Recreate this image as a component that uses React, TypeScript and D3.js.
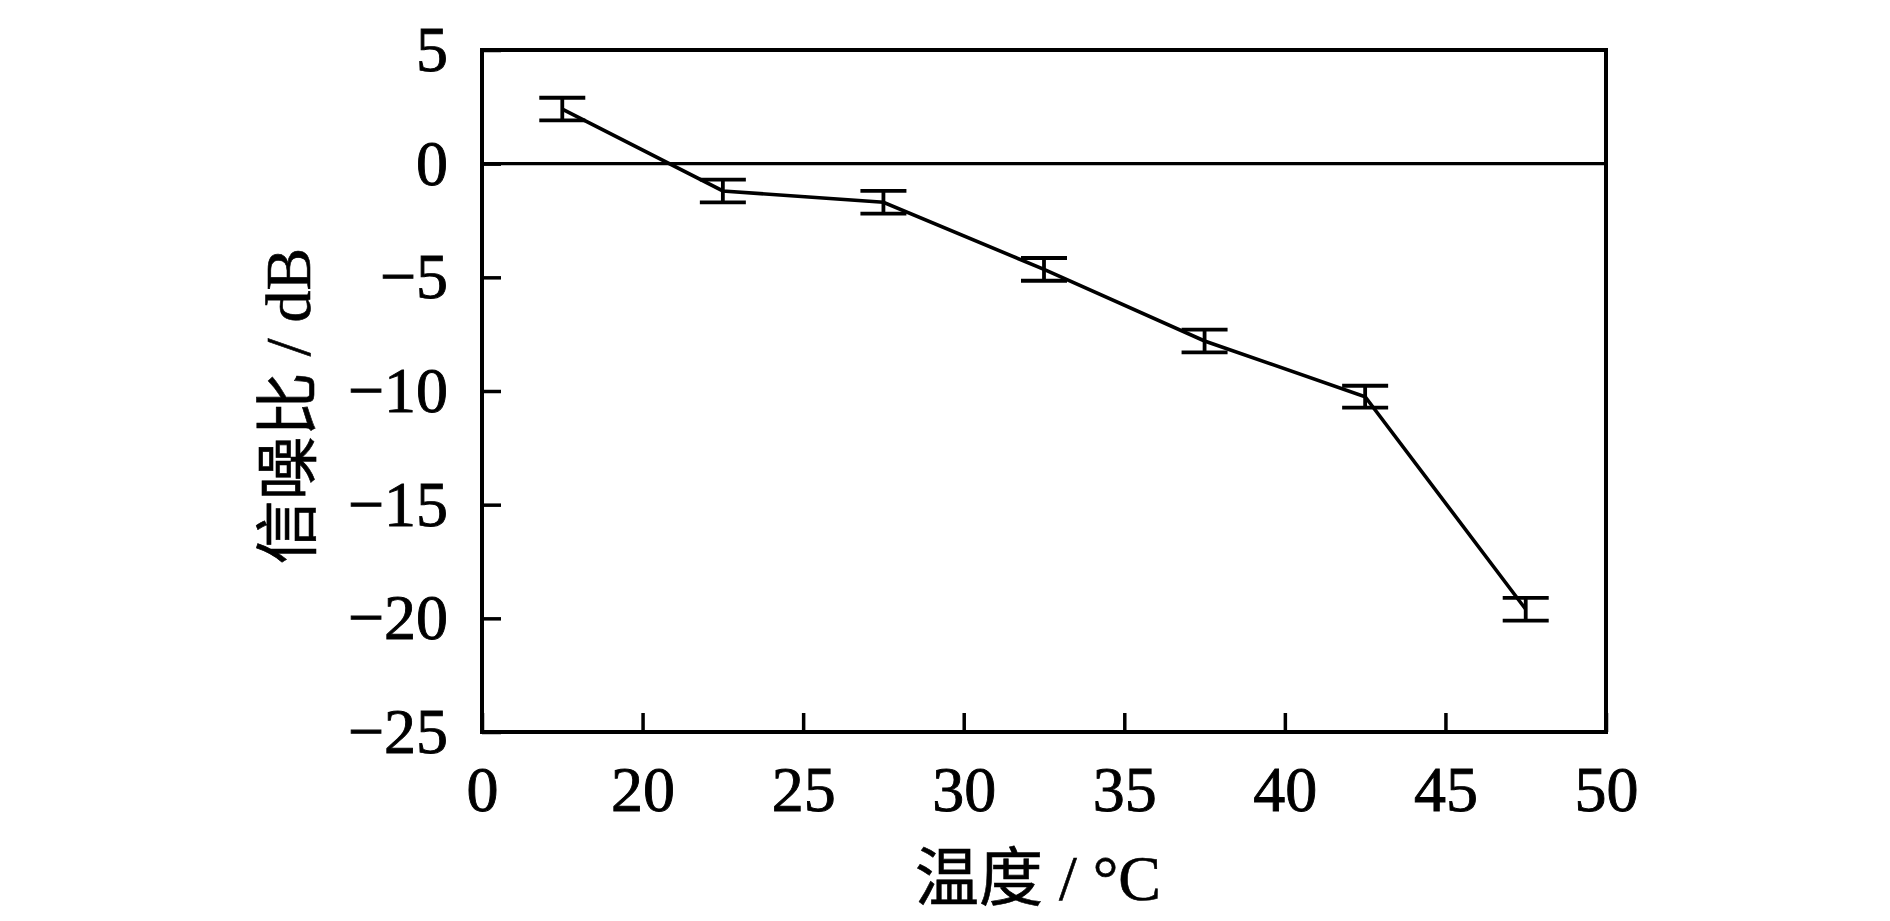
import { useEffect, useRef } from "react";
import { axisBottom, axisLeft, line, scaleLinear, select } from "d3";

const WIDTH = 1890;
const HEIGHT = 921;
const PLOT = { left: 482, right: 1606, top: 50, bottom: 732 };
const FONT = `"Times New Roman", "Liberation Serif", "Noto Sans CJK SC", serif`;

// temperature (°C), signal-to-noise ratio (dB), error (dB)
const temps = [17.5, 22.5, 27.5, 32.5, 37.5, 42.5, 47.5];
const snr = [2.4, -1.2, -1.7, -4.65, -7.8, -10.25, -19.6];
const err = [0.5, 0.5, 0.5, 0.5, 0.5, 0.48, 0.5];

// x axis is broken: the first tick (at 15) is labelled "0"
const xTicks = [15, 20, 25, 30, 35, 40, 45, 50];
const xTickLabels = ["0", "20", "25", "30", "35", "40", "45", "50"];
const yTicks = [5, 0, -5, -10, -15, -20, -25];

const xTitle = "温度 / °C";
const yTitle = "信噪比 / dB";

export default function App() {
  const x = scaleLinear().domain([15, 50]).range([PLOT.left, PLOT.right]);
  const y = scaleLinear().domain([-25, 5]).range([PLOT.bottom, PLOT.top]);

  const xAxisRef = useRef<SVGGElement>(null);
  const yAxisRef = useRef<SVGGElement>(null);

  useEffect(() => {
    const style = (node: SVGGElement) => {
      const g = select(node);
      g.select(".domain").remove();
      g.selectAll("line").attr("stroke", "#000").attr("stroke-width", 3.5);
      g.selectAll("text")
        .attr("fill", "#000")
        .attr("stroke", "#000")
        .attr("stroke-width", 0.9)
        .style("font-family", FONT)
        .style("font-size", "64px");
    };
    if (xAxisRef.current) {
      select(xAxisRef.current).call(
        axisBottom(x)
          .tickValues(xTicks)
          .tickFormat((_, i) => xTickLabels[i])
          .tickSizeInner(-19)
          .tickSizeOuter(0)
          .tickPadding(34)
      );
      style(xAxisRef.current);
    }
    if (yAxisRef.current) {
      select(yAxisRef.current).call(
        axisLeft(y)
          .tickValues(yTicks)
          .tickSizeInner(-19)
          .tickSizeOuter(0)
          .tickPadding(34)
      );
      style(yAxisRef.current);
    }
  });

  const points = temps.map((t, i) => [t, snr[i]] as [number, number]);
  const path = line<[number, number]>()
    .x((d) => x(d[0]))
    .y((d) => y(d[1]));

  const cap = 23;

  return (
    <svg
      width={WIDTH}
      height={HEIGHT}
      style={{ position: "absolute", left: 0, top: 0, background: "#fff" }}
    >
      <line
        x1={PLOT.left}
        x2={PLOT.right}
        y1={y(0)}
        y2={y(0)}
        stroke="#000"
        strokeWidth={3.2}
      />
      <path d={path(points) ?? undefined} fill="none" stroke="#000" strokeWidth={3.6} />
      {temps.map((t, i) => {
        const cx = x(t);
        const y1 = y(snr[i] + err[i]);
        const y2 = y(snr[i] - err[i]);
        return (
          <g key={i} stroke="#000" strokeWidth={3.8}>
            <line x1={cx} x2={cx} y1={y1} y2={y2} />
            <line x1={cx - cap} x2={cx + cap} y1={y1} y2={y1} />
            <line x1={cx - cap} x2={cx + cap} y1={y2} y2={y2} />
          </g>
        );
      })}
      <g ref={xAxisRef} transform={`translate(0, ${PLOT.bottom})`} />
      <g ref={yAxisRef} transform={`translate(${PLOT.left}, 0)`} />
      <rect
        x={PLOT.left}
        y={PLOT.top}
        width={PLOT.right - PLOT.left}
        height={PLOT.bottom - PLOT.top}
        fill="none"
        stroke="#000"
        strokeWidth={4}
      />
      <text
        x={(PLOT.left + PLOT.right) / 2 - 6}
        y={900}
        textAnchor="middle"
        fontFamily={FONT}
        fontSize={64}
        stroke="#000"
        strokeWidth={0.6}
      >
        {xTitle}
      </text>
      <text
        transform={`translate(310, 406) rotate(-90)`}
        textAnchor="middle"
        fontFamily={FONT}
        fontSize={64}
        stroke="#000"
        strokeWidth={0.6}
      >
        {yTitle}
      </text>
    </svg>
  );
}
